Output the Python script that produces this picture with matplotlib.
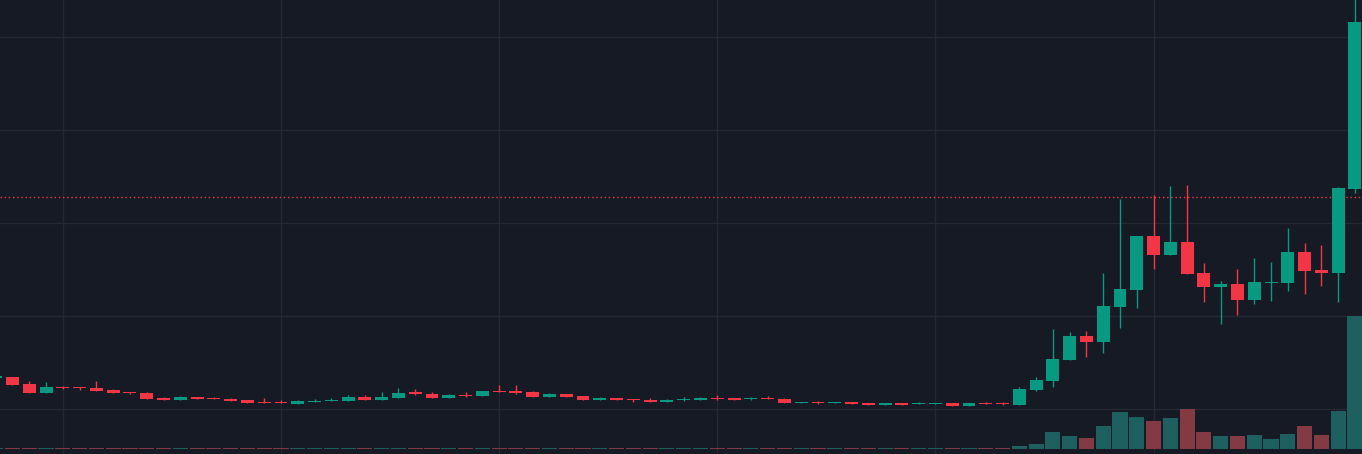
import numpy as np
import matplotlib
matplotlib.use("Agg")
import matplotlib.pyplot as plt

# OHLC (arbitrary price units)
opens = [124, 125, 118, 109.3, 115, 114.7, 114, 112, 110, 109, 104.3, 102.3, 105, 104.3, 103, 102,
         100.3, 100.3, 98.3, 100.3, 101.3, 101.3, 105, 102.3, 104.3, 109.7, 108.3, 104.3, 107.3, 106.3,
         111.3, 111.3, 110, 105, 108, 106, 102, 104, 103.3, 102.3, 100, 102.3, 102.3, 104.3, 104.3, 102.7,
         104, 103, 99.3, 100.3, 98.7, 99.7, 98.7, 97.3, 98.7, 97.7, 97.7, 98.7, 96.3, 99, 99,
         97.3, 112, 121, 142.3, 166, 160, 195, 212, 266, 247, 260, 229, 215, 218, 202, 219, 219, 250,
         232, 229, 313]
highs = [126, 125, 121.3, 120, 116, 115, 121.3, 113, 110, 110, 105.3, 106, 105, 105, 104.3, 102,
         104, 102, 102.3, 103.3, 104, 107.3, 107.3, 110, 114, 113, 110, 108.3, 110, 111,
         117.3, 117.3, 111.3, 109.3, 108, 106, 105.3, 104, 103.3, 104.3, 103.3, 105, 105.3, 107.3, 104.3, 105.3,
         106, 104.3, 100.3, 101.3, 99.7, 100.3, 98.7, 98.7, 98.7, 99.7, 98.7, 98.7, 98.7, 100.3, 100.3,
         114.7, 125, 173, 170.3, 171.3, 229, 303, 266, 307, 316.3, 317, 239, 221, 233, 244, 240, 274, 259,
         257, 315, 507]
lows = [124, 117, 109.3, 109.3, 113, 112, 111.3, 109, 108, 103.3, 102.3, 102.3, 103.3, 103, 101.3, 99.3,
        99, 99, 98.3, 100, 101.3, 101.3, 102.3, 102.3, 104.3, 107.3, 104.3, 104.3, 105.3, 106.3,
        110, 108, 105, 105, 105, 102, 102, 102, 100.3, 100, 100, 101, 102.3, 102, 102.3, 102.3,
        102.7, 99, 99.3, 98.3, 98.7, 98.3, 97.3, 97.3, 97.3, 97.7, 97.7, 96.3, 96.3, 97.7, 97,
        97.3, 111, 115, 142.3, 145, 148.7, 174.3, 194, 232.7, 247, 228, 200, 178, 187, 198, 201, 211, 208,
        216, 200, 309]
closes = [126, 117, 109.3, 115, 113.7, 113.7, 111.3, 109.3, 109, 103.3, 102.3, 105, 103.3, 103.3, 101.3, 99.3,
          99.3, 99.3, 101.3, 101.3, 102.3, 105, 102.3, 105, 109, 108.3, 104.3, 107.3, 106, 111,
          110, 109, 105, 108, 105, 102, 104, 102, 102.3, 100, 102.3, 103.3, 104.3, 103, 102.3, 103.7,
          102.7, 99, 100.3, 99.3, 99.7, 98.3, 97.3, 98.7, 97.3, 98.7, 98.7, 96.3, 98.7, 97.7, 97.7,
          113, 122, 143, 166, 160, 196, 213, 266, 247, 260, 228, 215, 218, 202, 220, 220, 250, 231.3,
          229, 314, 480]
volumes = [1.0] * 61 + [3.3, 4.7, 17, 13, 11, 23, 37, 32, 28, 31, 40, 17, 13, 13, 14, 10, 15, 23, 14, 38, 133]
price_line = 305.3

BG = '#161a25'
UP = '#089981'
DOWN = '#f23645'
UP_VOL = '#1e6060'
DOWN_VOL = '#843a42'
GRID = '#242833'

o = np.array(opens, dtype=float)
h = np.array(highs, dtype=float)
l = np.array(lows, dtype=float)
c = np.array(closes, dtype=float)
v = np.array(volumes, dtype=float)
x = np.arange(len(o))
up = c >= o

fig = plt.figure(figsize=(13.62, 4.54), dpi=100)
fig.patch.set_facecolor(BG)
ax = fig.add_axes([0, 0, 1, 1])
ax.set_facecolor(BG)

# grid
ax.set_xticks([4, 17, 30, 43, 56, 69])
ax.set_yticks(np.arange(93, 500, 93))
ax.grid(True, color=GRID, lw=1)
ax.tick_params(length=0, labelbottom=False, labelleft=False)
for s in ax.spines.values():
    s.set_visible(False)

# candles
colors = np.where(up, UP, DOWN)
ax.vlines(x, l, h, colors=colors, lw=1, zorder=3)
body_lo = np.minimum(o, c)
body_h = np.maximum(np.abs(c - o), 1.0)
ax.bar(x, body_h, bottom=body_lo, width=0.77, color=colors, lw=0, zorder=4)

ax.axhline(price_line, color=DOWN, lw=1, ls=(0, (1, 2)), zorder=2)

ax.set_xlim(0.256, 81.42)
ax.set_ylim(48, 502)

# volume
vax = ax.twinx()
vax.bar(x, v, width=0.9, color=np.where(up, UP_VOL, DOWN_VOL), lw=0)
vax.set_ylim(-5, 449)
vax.set_xlim(0.256, 81.42)
vax.axis('off')

fig.savefig('out.png', dpi=100, facecolor=BG)
